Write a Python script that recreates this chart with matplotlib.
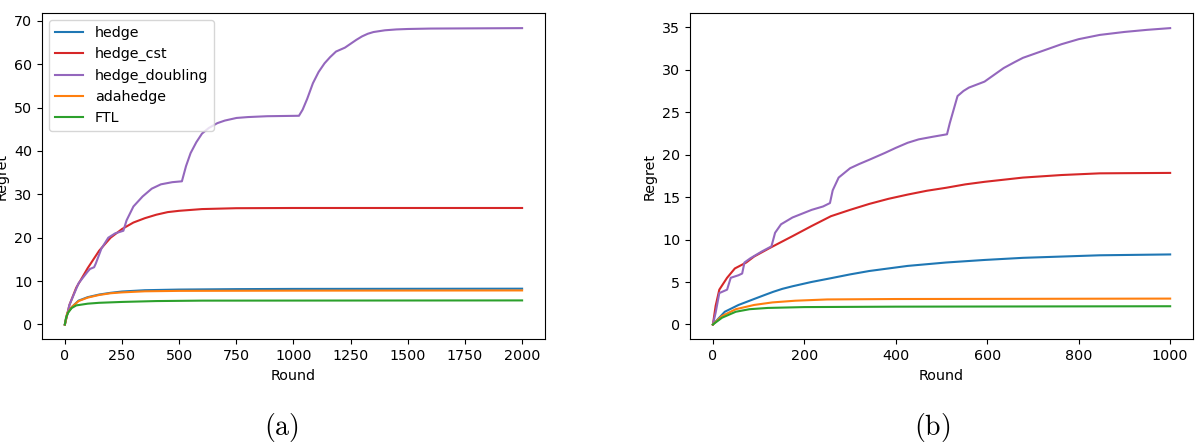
import matplotlib.pyplot as plt

plt.rcParams['font.size'] = 10.3
plt.rcParams['mathtext.fontset'] = 'cm'

labels = ["hedge", "hedge_cst", "hedge_doubling", "adahedge", "FTL"]
colors = ["tab:blue", "tab:red", "tab:purple", "tab:orange", "tab:green"]

# (a) 2000 rounds
a_hedge_x = [0, 10, 30, 60, 100, 150, 200, 250, 350, 500, 750, 1000, 2000]
a_hedge_y = [0, 2.5, 4.0, 5.5, 6.3, 6.9, 7.3, 7.6, 7.9, 8.05, 8.15, 8.2, 8.25]
a_cst_x = [0, 20, 50, 100, 150, 200, 250, 300, 350, 400, 450, 500, 600, 750, 1000, 2000]
a_cst_y = [0, 4.5, 8.5, 13.0, 17.0, 20.0, 22.0, 23.5, 24.5, 25.3, 25.9, 26.2, 26.6, 26.8, 26.85, 26.85]
a_dbl_x = [0, 20, 60, 100, 110, 128, 135, 160, 190, 220, 256, 270, 300, 340, 380, 420, 470, 512,
           530, 550, 575, 600, 630, 667, 700, 751, 800, 885, 1024, 1040, 1060, 1085, 1110,
           1136, 1160, 1186, 1225, 1250, 1275, 1300, 1325, 1350, 1400, 1450, 1500, 1600, 2000]
a_dbl_y = [0, 4.5, 9.5, 12.2, 12.8, 13.2, 14.0, 17.5, 20.0, 21.0, 21.6, 24.0, 27.2, 29.5, 31.3,
           32.3, 32.8, 33.0, 36.5, 39.5, 42.0, 44.0, 45.3, 46.4, 47.0, 47.6, 47.8, 48.0, 48.1,
           49.5, 52.0, 55.6, 58.2, 60.2, 61.6, 62.9, 63.8, 64.7, 65.6, 66.4, 67.0, 67.4, 67.8,
           68.0, 68.1, 68.2, 68.3]
a_ada_x = [0, 10, 30, 60, 100, 150, 200, 250, 350, 500, 1000, 2000]
a_ada_y = [0, 2.5, 4.0, 5.4, 6.2, 6.8, 7.2, 7.4, 7.65, 7.75, 7.8, 7.85]
a_ftl_x = [0, 5, 15, 30, 50, 100, 150, 250, 400, 600, 2000]
a_ftl_y = [0, 1.5, 2.8, 3.8, 4.4, 4.8, 5.0, 5.2, 5.4, 5.5, 5.55]

# (b) 1000 rounds
b_hedge_x = [0, 26, 56, 90, 112, 132, 152, 174, 215, 258, 300, 342, 384, 426, 468, 510, 594,
             678, 762, 846, 1000]
b_hedge_y = [0, 1.5, 2.3, 3.0, 3.45, 3.85, 4.2, 4.5, 5.0, 5.45, 5.9, 6.3, 6.6, 6.9, 7.1, 7.3,
             7.6, 7.85, 8.0, 8.15, 8.25]
b_cst_x = [0, 6, 14, 31, 48, 73, 90, 124, 174, 216, 258, 300, 342, 384, 426, 468, 510, 552,
           594, 636, 678, 720, 762, 804, 846, 900, 1000]
b_cst_y = [0, 2.2, 4.1, 5.5, 6.6, 7.3, 8.0, 9.0, 10.4, 11.6, 12.75, 13.5, 14.2, 14.8, 15.3,
           15.75, 16.1, 16.5, 16.8, 17.05, 17.3, 17.45, 17.6, 17.7, 17.8, 17.82, 17.85]
b_dbl_x = [0, 6, 14, 31, 39, 56, 64, 69, 82, 107, 128, 136, 149, 174, 216, 241, 256, 262, 275,
           300, 320, 342, 376, 400, 426, 450, 480, 512, 518, 535, 548, 560, 594, 615, 636, 660,
           678, 720, 762, 800, 846, 900, 950, 1000]
b_dbl_y = [0, 1.4, 3.7, 4.1, 5.5, 5.8, 6.0, 7.3, 7.8, 8.6, 9.2, 10.8, 11.8, 12.6, 13.5, 13.9,
           14.3, 15.8, 17.3, 18.4, 18.9, 19.4, 20.2, 20.8, 21.4, 21.8, 22.1, 22.4, 23.7, 26.9,
           27.5, 27.9, 28.6, 29.4, 30.2, 30.9, 31.4, 32.2, 33.0, 33.6, 34.1, 34.45, 34.7, 34.9]
b_ada_x = [0, 20, 50, 90, 130, 180, 250, 400, 1000]
b_ada_y = [0, 1.0, 1.8, 2.3, 2.6, 2.8, 2.95, 3.0, 3.05]
b_ftl_x = [0, 20, 50, 80, 120, 200, 400, 1000]
b_ftl_y = [0, 0.8, 1.5, 1.8, 1.95, 2.05, 2.1, 2.15]

panels = [
    [(a_hedge_x, a_hedge_y), (a_cst_x, a_cst_y), (a_dbl_x, a_dbl_y), (a_ada_x, a_ada_y), (a_ftl_x, a_ftl_y)],
    [(b_hedge_x, b_hedge_y), (b_cst_x, b_cst_y), (b_dbl_x, b_dbl_y), (b_ada_x, b_ada_y), (b_ftl_x, b_ftl_y)],
]
x_ticks = [[0, 250, 500, 750, 1000, 1250, 1500, 1750, 2000], [0, 200, 400, 600, 800, 1000]]
captions = ["(a)", "(b)"]

fig = plt.figure(figsize=(12.03, 4.48), dpi=100)
ax_a = fig.add_axes([0.0349, 0.2426, 0.4181, 0.7277])
ax_b = fig.add_axes([0.5736, 0.2426, 0.4181, 0.7277])

for i, ax in enumerate([ax_a, ax_b]):
    for (xs, ys), lab, col in zip(panels[i], labels, colors):
        ax.plot(xs, ys, color=col, label=lab, linewidth=1.5)
    ax.set_xticks(x_ticks[i])
    ax.set_xlabel("Round")
    ax.set_ylabel("Regret")

ax_a.legend(loc="upper left")

fig.text(0.234, 0.045, r"$\mathrm{" + captions[0] + "}$", fontsize=20, ha="center", va="center")
fig.text(0.775, 0.045, r"$\mathrm{" + captions[1] + "}$", fontsize=20, ha="center", va="center")

fig.savefig("out.png", dpi=100)
